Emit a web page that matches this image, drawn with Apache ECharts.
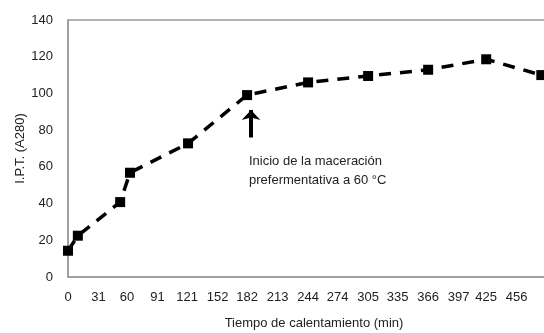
<!DOCTYPE html>
<html>
<head>
<meta charset="utf-8">
<script src="https://cdn.jsdelivr.net/npm/echarts@6/dist/echarts.min.js"></script>
<style>
  html, body { margin: 0; padding: 0; background: #fff; }
  #chart { width: 544px; height: 333px; }
</style>
</head>
<body>
<div id="chart"></div>
<script>
// Heating time (min) and I.P.T. (A280) readings
const tiempos = [0, 10, 53, 63, 122, 182, 244, 305, 366, 425, 481];
const ipt = [14.3, 22.5, 40.8, 56.8, 72.8, 99.1, 106, 109.5, 112.9, 118.6, 110];
const xTicks = [0, 31, 60, 91, 121, 152, 182, 213, 244, 274, 305, 335, 366, 397, 425, 456];
const yTicks = [0, 20, 40, 60, 80, 100, 120, 140];
// start of pre-fermentation maceration: arrow under the 182 min point
const inicio = { x: 186, yFrom: 76, yTo: 91 };

const FONT = "'Liberation Sans', Arial, sans-serif";
const AXIS_GREY = '#9a9a9a';
const TEXT = '#222';

const chart = echarts.init(document.getElementById('chart'), null, { renderer: 'canvas' });

chart.setOption({
  animation: false,
  backgroundColor: '#fff',
  grid: {
    left: 68, top: 20, width: 492, height: 257,
    outerBoundsMode: 'none',
    containLabel: false,
    show: true, borderColor: AXIS_GREY, borderWidth: 1.5, backgroundColor: 'transparent'
  },
  xAxis: {
    type: 'value',
    min: 0, max: 500,
    name: 'Tiempo de calentamiento (min)',
    nameLocation: 'middle',
    nameGap: 40,
    nameMoveOverlap: false,
    nameTextStyle: { fontFamily: FONT, fontSize: 13, color: TEXT },
    axisLine: { show: true, lineStyle: { color: AXIS_GREY, width: 1.5 } },
    axisTick: { show: false },
    splitLine: { show: false },
    axisLabel: {
      customValues: xTicks,
      margin: 14,
      fontFamily: FONT, fontSize: 13, color: TEXT
    }
  },
  yAxis: {
    type: 'value',
    min: yTicks[0], max: yTicks[yTicks.length - 1], interval: 20,
    name: 'I.P.T. (A280)',
    nameLocation: 'middle',
    nameGap: 41,
    nameRotate: 90,
    nameMoveOverlap: false,
    nameTextStyle: { fontFamily: FONT, fontSize: 13, color: TEXT },
    axisLine: { show: true, lineStyle: { color: AXIS_GREY, width: 1.5 } },
    axisTick: { show: false },
    splitLine: { show: false },
    axisLabel: { margin: 15, fontFamily: FONT, fontSize: 13, color: TEXT }
  },
  series: [{
    type: 'line',
    data: tiempos.map((t, i) => [t, ipt[i]]),
    symbol: 'rect',
    symbolSize: 10,
    clip: false,
    itemStyle: { color: '#000' },
    lineStyle: { color: '#000', width: 3.5, type: [12, 9] },
    markLine: {
      silent: true,
      symbol: ['none', 'arrow'],
      symbolSize: [14, 10],
      lineStyle: { color: '#000', width: 4, type: 'solid' },
      label: { show: false },
      data: [[
        { coord: [inicio.x, inicio.yFrom] },
        { coord: [inicio.x, inicio.yTo] }
      ]]
    }
  }],
  graphic: [{
    type: 'text',
    left: 249, top: 152,
    style: {
      text: 'Inicio de la maceración\nprefermentativa a 60 °C',
      fontFamily: FONT, fontSize: 13, lineHeight: 19, fill: TEXT
    }
  }]
});
</script>
</body>
</html>
